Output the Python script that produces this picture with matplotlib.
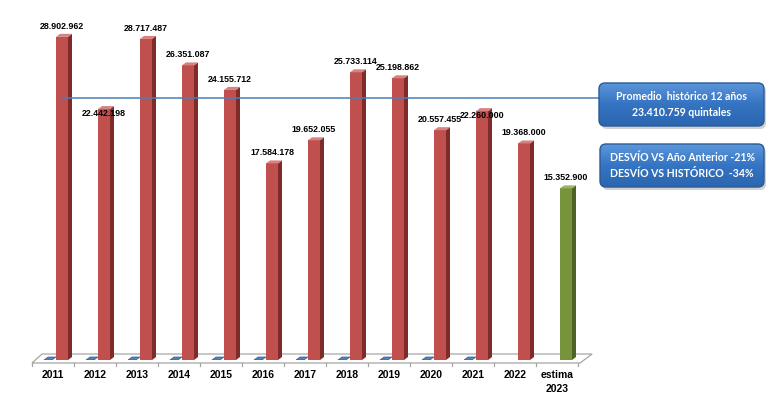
import numpy as np
import matplotlib.pyplot as plt
from matplotlib.patches import Polygon, FancyBboxPatch
from matplotlib.colors import LinearSegmentedColormap

# datos
anios = ['2011', '2012', '2013', '2014', '2015', '2016', '2017', '2018',
         '2019', '2020', '2021', '2022', 'estima\n2023']
produccion = [28902962, 22442198, 28717487, 26351087, 24155712, 17584178,
              19652055, 25733114, 25198862, 20557455, 22260000, 19368000,
              15352900]
serie_azul = [0, 0, 0, 0, 0, 0, 0, 0, 0, 0, 0, np.nan, np.nan]
promedio = 23410759
etiqueta_abajo = ['2012', '2021']
texto_promedio = 'Promedio  histórico 12 años\n23.410.759 quintales'
texto_desvio = 'DESVÍO VS Año Anterior -21%\nDESVÍO VS HISTÓRICO  -34%'

W, H = 770, 411
fig = plt.figure(figsize=(W / 100, H / 100), dpi=100)
base_px = 360
ax = fig.add_axes([0, (H - base_px) / H, 1, base_px / H])
paso = 42.0          # px por categoria
escala = 11.18e-6    # px por quintal
x0_px = 53
ax.set_xlim(-x0_px / paso, (W - x0_px) / paso)
ax.set_ylim(0, base_px / escala)
PX = 1 / paso        # 1 px en x
PY = 1 / escala      # 1 px en y

x = np.arange(len(anios))
rojo = ['#C0504D'] * 12 + ['#77933C']
lado = ['#7E2B29'] * 12 + ['#4F6228']
arriba = ['#D7827F'] * 12 + ['#9BB562']
dx, dy = 4 * PX, 3 * PY

# piso 3D
piso = Polygon([(-0.5, -3 * PY), (12.55, -3 * PY), (12.55 + 12 * PX, 6 * PY),
                (-0.5 + 10 * PX, 6 * PY)], closed=True, facecolor='white',
               edgecolor='#A6A6A6', lw=0.9, clip_on=False, zorder=1)
ax.add_patch(piso)
for b in np.arange(len(anios) + 1) - 0.5:
    ax.plot([b, b], [-3 * PY, -6 * PY], color='#A6A6A6', lw=0.9,
            clip_on=False, zorder=1)

# serie azul (valores nulos, solo se ve la cara superior)
for xi, v in zip(x, serie_azul):
    if np.isnan(v):
        continue
    izq = xi - 9 * PX
    ax.add_patch(Polygon([(izq, v), (izq + 8 * PX, v), (izq + 8 * PX + dx, v + dy),
                          (izq + dx, v + dy)], closed=True, facecolor='#4F81BD',
                         edgecolor='#385D8A', lw=0.5, zorder=2))

# barras 3D
ancho = 12 * PX
centros = x + 9 * PX
ax.bar(centros, produccion, width=ancho, color=rojo, zorder=3)
for c, v, cl, ca in zip(centros, produccion, lado, arriba):
    d = c + ancho / 2
    i = c - ancho / 2
    ax.add_patch(Polygon([(d, 0), (d + dx, dy), (d + dx, v + dy), (d, v)],
                         closed=True, facecolor=cl, edgecolor='none', zorder=3))
    ax.add_patch(Polygon([(i, v), (i + dx, v + dy), (d + dx, v + dy), (d, v)],
                         closed=True, facecolor=ca, edgecolor='none', zorder=3))

# linea de promedio
caja_x = 600
ax.plot([centros[0], (caja_x - x0_px) / paso], [promedio, promedio],
        color='#4A7EBB', lw=1.1, zorder=4, clip_on=False)

# etiquetas de valores
for c, v, a in zip(centros, produccion, anios):
    txt = f'{v:,}'.replace(',', '.')
    if a in etiqueta_abajo:
        ax.annotate(txt, (c, v), xytext=(0, -3), textcoords='offset points',
                    ha='center', va='center', fontsize=6.4, fontweight='bold',
                    family='Liberation Sans', zorder=5)
    else:
        ax.annotate(txt, (c, v), xytext=(0, 4.5), textcoords='offset points',
                    ha='center', va='bottom', fontsize=6.4, fontweight='bold',
                    family='Liberation Sans', zorder=5)

ax.set_xticks(x, anios, fontsize=7.5, fontweight='bold', family='Liberation Sans')
for t in ax.get_xticklabels():
    t.set_linespacing(1.55)
ax.tick_params(axis='x', length=0, pad=7)
ax.set_yticks([])
for s in ax.spines.values():
    s.set_visible(False)
ax.patch.set_alpha(0)

# cajas de texto
ax2 = fig.add_axes([0, 0, 1, 1], zorder=5)
ax2.set_xlim(0, W)
ax2.set_ylim(H, 0)
ax2.axis('off')
ax2.patch.set_alpha(0)

grad = np.linspace(0, 1, 64).reshape(-1, 1)
cmap = LinearSegmentedColormap.from_list('az', ['#5B97DB', '#3574C2', '#2B66B0'])
for (bx0, by0, bx1, by1), texto in [((599, 83, 764, 126), texto_promedio),
                                     ((600, 144, 764, 187), texto_desvio)]:
    sombra = FancyBboxPatch((bx0 + 2, by0 + 3), bx1 - bx0, by1 - by0,
                            boxstyle='round,pad=0,rounding_size=6',
                            facecolor='#000000', alpha=0.18, edgecolor='none')
    ax2.add_patch(sombra)
    caja = FancyBboxPatch((bx0, by0), bx1 - bx0, by1 - by0,
                          boxstyle='round,pad=0,rounding_size=6',
                          facecolor='none', edgecolor='#2A5A96', lw=1.0, zorder=2)
    ax2.add_patch(caja)
    img = ax2.imshow(grad, extent=(bx0, bx1, by1, by0), cmap=cmap,
                     aspect='auto', zorder=1)
    img.set_clip_path(caja)
    ax2.text((bx0 + bx1) / 2, (by0 + by1) / 2, texto, ha='center', va='center',
             color='white', fontsize=7.6, fontweight='bold', family='Lato',
             linespacing=1.45, zorder=3)

fig.savefig('out.png', dpi=100)
